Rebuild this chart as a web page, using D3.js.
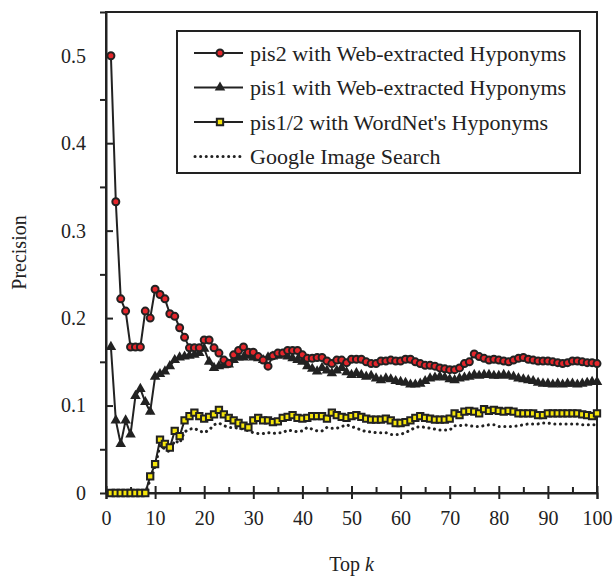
<!DOCTYPE html>
<html>
<head>
<meta charset="utf-8">
<script src="https://d3js.org/d3.v7.min.js"></script>
<style>
  body { margin: 0; background: #fff; }
  text { font-family: "Liberation Serif", "Times New Roman", serif; fill: #222; }
</style>
</head>
<body>
<div id="chart"></div>
<script>
// precision at top k, k = 1..100
const pis2Web = [
  0.5, 0.333, 0.222, 0.208, 0.167, 0.167, 0.167, 0.208, 0.2, 0.233,
  0.227, 0.222, 0.205, 0.202, 0.189, 0.178, 0.166, 0.166, 0.166, 0.175,
  0.175, 0.166, 0.16, 0.152, 0.148, 0.158, 0.163, 0.167, 0.161, 0.161,
  0.156, 0.152, 0.145, 0.157, 0.16, 0.16, 0.163, 0.163, 0.163, 0.158,
  0.154, 0.154, 0.155, 0.155, 0.151, 0.148, 0.152, 0.152, 0.149, 0.153,
  0.153, 0.153, 0.15, 0.148, 0.148, 0.151, 0.151, 0.152, 0.151, 0.151,
  0.153, 0.153, 0.15, 0.148, 0.146, 0.146, 0.145, 0.143, 0.142, 0.141,
  0.141, 0.143, 0.148, 0.15, 0.159, 0.156, 0.154, 0.152, 0.153, 0.152,
  0.151, 0.15, 0.152, 0.154, 0.155, 0.153, 0.152, 0.151, 0.151, 0.151,
  0.15, 0.149, 0.148, 0.149, 0.151, 0.151, 0.15, 0.149, 0.149, 0.148
];
const pis1Web = [
  0.167, 0.083, 0.056, 0.083, 0.067, 0.111, 0.119, 0.104, 0.093, 0.133,
  0.136, 0.139, 0.145, 0.152, 0.155, 0.156, 0.157, 0.158, 0.16, 0.165,
  0.15, 0.143, 0.145, 0.146, 0.147, 0.152, 0.155, 0.155, 0.157, 0.155,
  0.154, 0.152, 0.155, 0.156, 0.157, 0.158, 0.156, 0.154, 0.152, 0.15,
  0.145, 0.142, 0.139, 0.143, 0.14, 0.137, 0.14, 0.143, 0.138, 0.135,
  0.137, 0.135, 0.133, 0.134, 0.131, 0.129, 0.131, 0.13, 0.128, 0.127,
  0.126, 0.124, 0.124, 0.125, 0.128, 0.131, 0.132, 0.133, 0.132, 0.13,
  0.129, 0.131, 0.132, 0.133, 0.135, 0.134, 0.135, 0.135, 0.134, 0.134,
  0.135, 0.134, 0.133, 0.131, 0.13, 0.129, 0.128, 0.126, 0.125, 0.125,
  0.124, 0.125, 0.124, 0.125, 0.125, 0.124, 0.125, 0.126, 0.127, 0.127
];
const pis12WordNet = [
  0, 0, 0, 0, 0, 0, 0, 0, 0.019, 0.033,
  0.061, 0.056, 0.052, 0.071, 0.065, 0.083, 0.088, 0.092, 0.088, 0.085,
  0.087, 0.09, 0.095, 0.09, 0.086, 0.083, 0.08, 0.077, 0.075, 0.083,
  0.086, 0.083, 0.083, 0.081, 0.082, 0.086, 0.087, 0.089, 0.086, 0.085,
  0.086, 0.088, 0.088, 0.088, 0.085, 0.092, 0.089, 0.087, 0.086, 0.088,
  0.089, 0.087, 0.085, 0.084, 0.084, 0.084, 0.085, 0.083, 0.08, 0.08,
  0.081, 0.083, 0.086, 0.088, 0.086, 0.085, 0.084, 0.084, 0.084, 0.085,
  0.091, 0.089, 0.093, 0.094, 0.093, 0.091, 0.096, 0.094, 0.095, 0.094,
  0.093, 0.094, 0.093, 0.091, 0.091, 0.091, 0.091, 0.089, 0.089, 0.091,
  0.091, 0.091, 0.091, 0.091, 0.091, 0.091, 0.09, 0.089, 0.088, 0.091
];
const googleImage = [
  0, 0, 0, 0, 0, 0, 0, 0, 0.015, 0.03,
  0.055, 0.05, 0.047, 0.06, 0.057, 0.07, 0.073, 0.074, 0.071, 0.069,
  0.072, 0.078, 0.08, 0.077, 0.075, 0.075, 0.074, 0.073, 0.071, 0.069,
  0.068, 0.068, 0.069, 0.068, 0.069, 0.069, 0.072, 0.071, 0.07, 0.071,
  0.075, 0.073, 0.071, 0.071, 0.075, 0.074, 0.074, 0.076, 0.078, 0.076,
  0.074, 0.072, 0.07, 0.07, 0.069, 0.069, 0.069, 0.067, 0.067, 0.067,
  0.069, 0.072, 0.075, 0.076, 0.075, 0.074, 0.073, 0.072, 0.072, 0.072,
  0.077, 0.077, 0.078, 0.077, 0.076, 0.076, 0.077, 0.078, 0.078, 0.076,
  0.076, 0.076, 0.076, 0.077, 0.078, 0.079, 0.079, 0.079, 0.08, 0.08,
  0.079, 0.079, 0.079, 0.079, 0.079, 0.079, 0.078, 0.078, 0.078, 0.078
];

const legendLabels = [
  'pis2 with Web-extracted Hyponyms',
  'pis1 with Web-extracted Hyponyms',
  'pis1/2 with WordNet\'s Hyponyms',
  'Google Image Search'
];
const xTicks = [0, 10, 20, 30, 40, 50, 60, 70, 80, 90, 100];
const yTicks = [0, 0.1, 0.2, 0.3, 0.4, 0.5];

const W = 613, H = 579;
const margin = {top: 12, right: 16, bottom: 86, left: 106};
const width = W - margin.left - margin.right;
const height = H - margin.top - margin.bottom;

const svg = d3.select('#chart')
  .append('svg')
    .attr('width', W)
    .attr('height', H)
  .append('g')
    .attr('transform', 'translate(' + margin.left + ',' + margin.top + ')');

const x = d3.scaleLinear().domain([0, 100]).range([0, width]);
const y = d3.scaleLinear().domain([0, 0.55]).range([height, 0]);

// frame
svg.append('rect')
  .attr('width', width)
  .attr('height', height)
  .attr('fill', 'none')
  .attr('stroke', '#222')
  .attr('stroke-width', 2);

// X axis: major ticks crossing, minor inside
const xAxis = svg.append('g')
  .attr('transform', 'translate(0,' + height + ')');
xAxis.call(d3.axisBottom(x).tickValues(d3.range(5, 100, 10)).tickSize(-6).tickFormat(''));
xAxis.call(g => g.select('.domain').remove());
const xMajor = svg.append('g')
  .attr('transform', 'translate(0,' + height + ')')
  .call(d3.axisBottom(x).tickValues(xTicks).tickSize(6).tickPadding(12).tickFormat(d3.format('d')));
xMajor.selectAll('.tick line').attr('y1', -7);
xMajor.selectAll('.tick text').style('font-size', '20px').attr('fill', '#222');

// Y axis: major ticks crossing, minor outside
const yAxis = svg.append('g');
yAxis.call(d3.axisLeft(y).tickValues(d3.range(0.05, 0.55, 0.1)).tickSize(6).tickFormat(''));
yAxis.call(g => g.select('.domain').remove());
const yMajor = svg.append('g')
  .call(d3.axisLeft(y).tickValues(yTicks).tickSize(6).tickPadding(14)
    .tickFormat(d => d === 0 ? '0' : d3.format('.1f')(d)));
yMajor.selectAll('.tick line').attr('x2', 7);
yMajor.selectAll('.tick text').style('font-size', '20px').attr('fill', '#222');

svg.selectAll('.domain').attr('stroke', '#222').attr('stroke-width', 2);
svg.selectAll('.tick line').attr('stroke', '#222').attr('stroke-width', 2);

// axis titles
svg.append('text')
  .attr('x', width / 2)
  .attr('y', height + 78)
  .attr('text-anchor', 'middle')
  .style('font-size', '20px')
  .text('Top ')
  .append('tspan')
    .style('font-style', 'italic')
    .text('k');

svg.append('text')
  .attr('transform', 'translate(' + (-80) + ',' + (height / 2) + ') rotate(-90)')
  .attr('text-anchor', 'middle')
  .style('font-size', '20px')
  .text('Precision');

const line = d3.line()
  .x((d, i) => x(i + 1))
  .y(d => y(d));

const symTri = d3.symbol().type(d3.symbolTriangle).size(48);
const symSq = d3.symbol().type(d3.symbolSquare).size(40);

// google (dotted)
svg.append('path')
  .datum(googleImage)
  .attr('d', line)
  .attr('fill', 'none')
  .attr('stroke', '#222')
  .attr('stroke-width', 3)
  .attr('stroke-linecap', 'round')
  .attr('stroke-dasharray', '0.1,5.5');

// pis1/2 WordNet (yellow squares)
svg.append('path')
  .datum(pis12WordNet)
  .attr('d', line)
  .attr('fill', 'none')
  .attr('stroke', '#222')
  .attr('stroke-width', 2);
svg.append('g').selectAll('path')
  .data(pis12WordNet)
  .join('path')
    .attr('transform', (d, i) => 'translate(' + x(i + 1) + ',' + y(d) + ')')
    .attr('d', symSq)
    .attr('fill', '#f5e50a')
    .attr('stroke', '#222')
    .attr('stroke-width', 2);

// pis1 web (black triangles)
svg.append('path')
  .datum(pis1Web)
  .attr('d', line)
  .attr('fill', 'none')
  .attr('stroke', '#222')
  .attr('stroke-width', 2);
svg.append('g').selectAll('path')
  .data(pis1Web)
  .join('path')
    .attr('transform', (d, i) => 'translate(' + x(i + 1) + ',' + y(d) + ')')
    .attr('d', symTri)
    .attr('fill', '#222');

// pis2 web (red circles)
svg.append('path')
  .datum(pis2Web)
  .attr('d', line)
  .attr('fill', 'none')
  .attr('stroke', '#222')
  .attr('stroke-width', 2);
svg.append('g').selectAll('circle')
  .data(pis2Web)
  .join('circle')
    .attr('cx', (d, i) => x(i + 1))
    .attr('cy', d => y(d))
    .attr('r', 3.5)
    .attr('fill', '#e4262b')
    .attr('stroke', '#222')
    .attr('stroke-width', 2);

// legend
const legend = svg.append('g')
  .attr('transform', 'translate(' + (177 - margin.left) + ',' + (31 - margin.top) + ')');
legend.append('rect')
  .attr('width', 403)
  .attr('height', 142)
  .attr('fill', '#fff')
  .attr('stroke', '#222')
  .attr('stroke-width', 2);

legendLabels.forEach((label, i) => {
  const row = legend.append('g').attr('transform', 'translate(0,' + (22 + i * 34.5) + ')');
  const sample = row.append('line')
    .attr('x1', 17).attr('x2', 66)
    .attr('stroke', '#222');
  if (i === 3) {
    sample.attr('stroke-width', 3)
      .attr('stroke-linecap', 'round')
      .attr('stroke-dasharray', '0.1,5.5')
      .attr('x1', 18).attr('x2', 66);
  } else {
    sample.attr('stroke-width', 2);
  }
  if (i === 0) {
    row.append('circle').attr('cx', 43).attr('r', 3.5)
      .attr('fill', '#e4262b').attr('stroke', '#222').attr('stroke-width', 2);
  } else if (i === 1) {
    row.append('path').attr('transform', 'translate(43,0)').attr('d', symTri).attr('fill', '#222');
  } else if (i === 2) {
    row.append('path').attr('transform', 'translate(43,0)').attr('d', symSq)
      .attr('fill', '#f5e50a').attr('stroke', '#222').attr('stroke-width', 2);
  }
  row.append('text')
    .attr('x', 73)
    .attr('dy', '0.35em')
    .style('font-size', '22px')
    .text(label);
});
</script>
</body>
</html>
